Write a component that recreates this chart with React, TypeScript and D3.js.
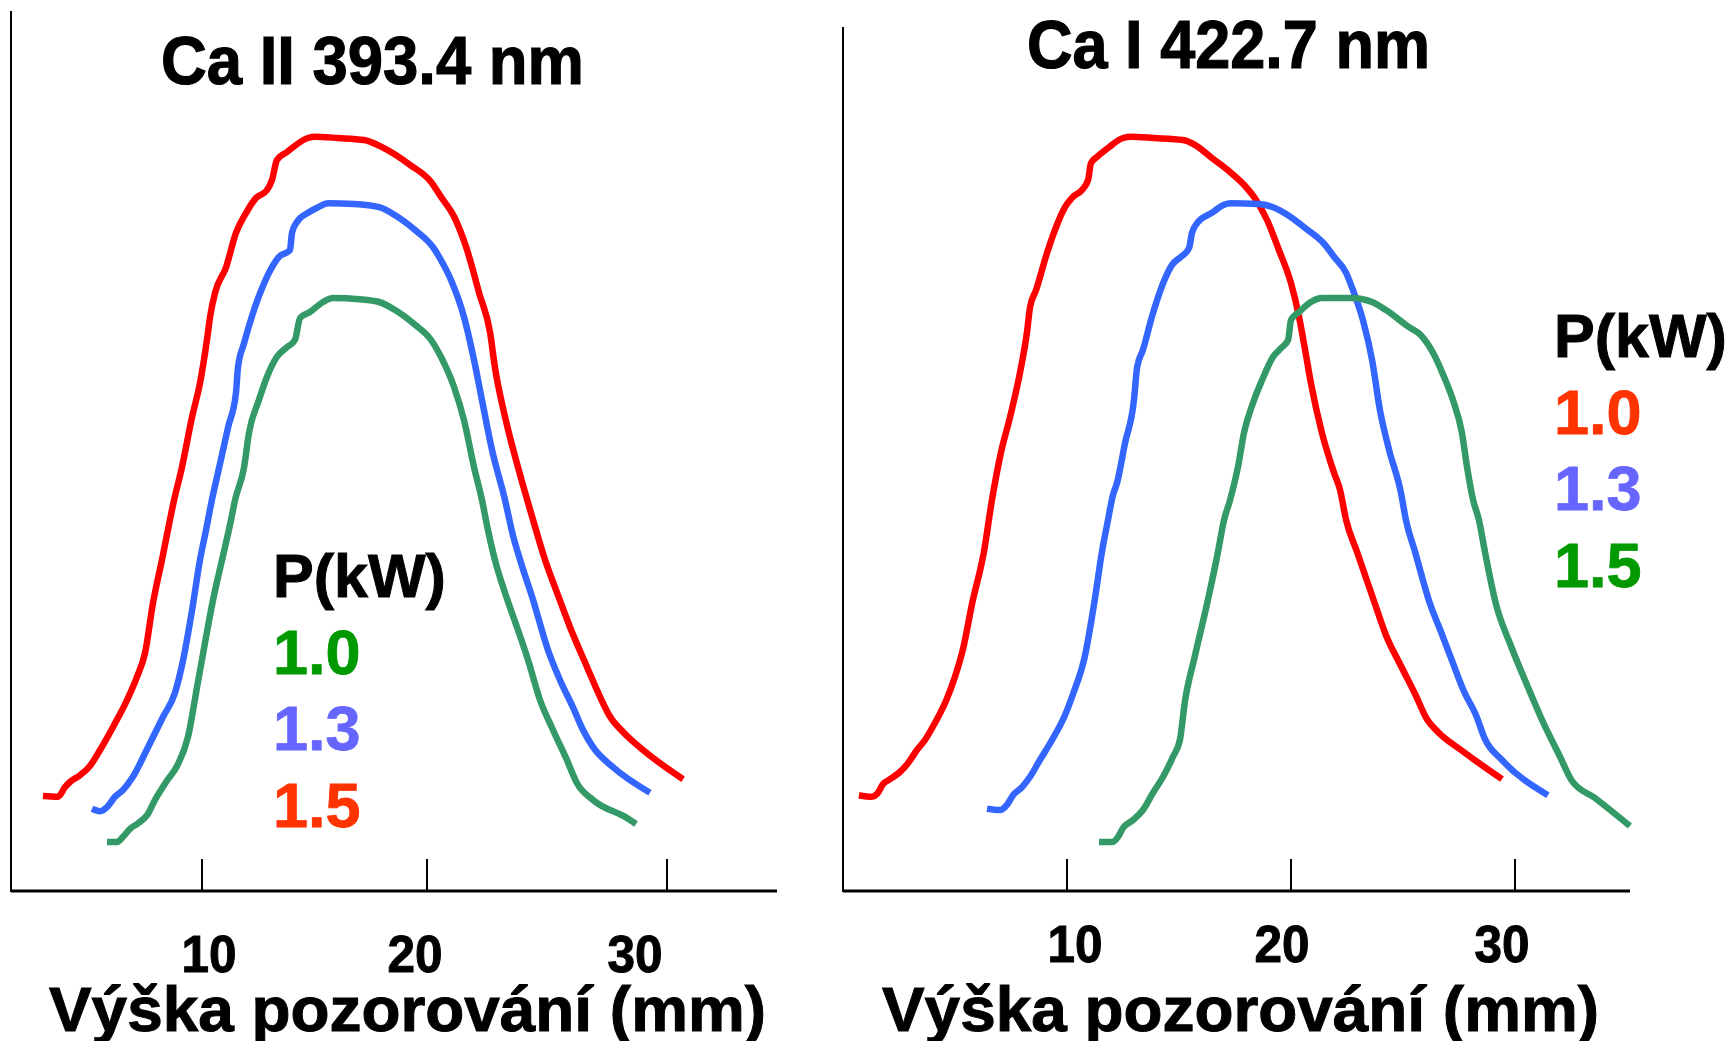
import React from 'react';
import * as d3 from 'd3';

// tick values and texts
const tickValues = [10, 20, 30];
const axisTitle = 'Výška pozorování (mm)';
const legendTitle = 'P(kW)';
const legendLabels = ['1.0', '1.3', '1.5'];
const leftLegendColors = ['#009900', '#6666ff', '#ff3300'];
const rightLegendColors = ['#ff3300', '#6666ff', '#009900'];

// Ca II 393.4 nm  -- [height mm, intensity]
const caIIRed = [[2.93,12.0],[3.6,11.9],[3.91,13.1],[4.13,13.75],[4.58,14.6],[5.02,15.75],[5.47,17.75],[6.04,20.6],[6.67,24],[7.11,26.9],[7.47,29.9],[7.82,36.1],[8.22,41.5],[8.76,49],[9.11,53.1],[9.56,59.4],[9.91,63.6],[10.22,69],[10.36,71.9],[10.58,74.9],[11.07,78.1],[11.51,82.4],[11.96,84.9],[12.4,86.75],[12.89,87.75],[13.11,89],[13.33,91.5],[13.78,92.5],[14.71,94.25],[15.02,94.4],[16.04,94.25],[17.2,94],[18.0,93.1],[19.24,90.9],[20.17,88.75],[20.58,86.9],[21.13,84.4],[21.67,80.25],[22.17,74.9],[22.63,69.9],[22.83,65.6],[23.25,59.4],[23.79,53.1],[24.42,46.5],[24.92,41.5],[25.42,37.4],[25.96,33.1],[26.67,28.1],[27.21,24.4],[27.63,21.9],[28.17,20],[29.0,17.75],[30.67,14.1]];
const caIIBlue = [[5.11,10.4],[5.47,10.1],[5.78,10.6],[6.13,11.9],[6.49,12.75],[6.93,14.4],[7.6,18.1],[8.27,21.9],[8.8,24.9],[9.16,29],[9.56,35.25],[9.91,41.5],[10.18,45.25],[10.44,49],[10.71,52.4],[11.16,58.1],[11.51,62.4],[11.6,65.6],[11.87,68.6],[12.31,72.75],[12.76,76.1],[13.11,78.1],[13.42,79.4],[13.91,80.25],[14.0,82.4],[14.22,83.75],[14.71,84.9],[15.16,85.6],[15.6,86.1],[16.76,86],[17.87,85.6],[18.58,84.6],[19.47,82.75],[20.25,80.6],[20.58,79],[21.0,76.5],[21.54,71.9],[21.96,66.5],[22.29,61.5],[22.71,55.25],[23.25,49],[23.58,44.6],[23.88,41.5],[24.42,36.5],[25.04,30.25],[25.54,26.5],[26.08,23.1],[26.5,20.25],[26.92,18.1],[27.75,15.6],[29.29,12.4]];
const caIIGreen = [[5.78,6.25],[6.22,6.25],[6.49,6.9],[6.8,7.9],[7.16,8.6],[7.56,9.6],[7.91,11.5],[8.44,13.9],[8.89,15.75],[9.38,19.4],[9.78,25.6],[10.13,31.1],[10.49,36.5],[10.89,41.5],[11.29,46.5],[11.47,49],[11.87,53.1],[12.09,57.4],[12.53,61.5],[12.89,64.4],[13.33,66.9],[13.78,68.1],[14.13,69],[14.36,71.75],[14.8,72.5],[15.38,73.75],[15.82,74.25],[16.98,74.1],[17.87,73.75],[18.58,72.75],[19.47,70.9],[20.17,69],[20.58,66.9],[21.13,63.1],[21.54,59],[21.96,53.1],[22.29,49],[22.54,45.25],[22.83,41.5],[23.25,37.4],[23.75,33.1],[24.21,29],[24.71,24],[25.25,20.25],[25.83,16.5],[26.25,13.6],[26.92,11.5],[28.33,9.25],[28.71,8.5]];

// Ca I 422.7 nm
const caIRed = [[0.71,12.1],[1.29,11.9],[1.56,12.4],[1.79,13.5],[2.1,14.1],[2.54,15],[2.9,16.1],[3.3,17.75],[3.66,19],[4.06,20.9],[4.6,23.9],[5.0,26.9],[5.36,30.4],[5.76,36],[6.29,42.5],[6.65,49],[7.05,54.9],[7.46,59.4],[7.95,65.6],[8.21,69.9],[8.35,73.1],[8.62,75.25],[9.11,79.9],[9.51,83.1],[9.91,85.6],[10.27,86.9],[10.67,87.75],[10.94,89],[11.07,91.1],[11.34,91.9],[11.83,93],[12.5,94.25],[12.86,94.4],[13.88,94.25],[15.18,94],[15.71,93.4],[16.47,91.75],[17.28,90],[17.9,88.4],[18.44,86.5],[18.93,84],[19.46,80.25],[20.0,76.1],[20.36,71.9],[20.63,67.75],[20.89,63.6],[21.38,57.4],[21.92,52.4],[22.19,50.25],[22.46,46.5],[22.95,42.5],[23.75,36],[24.24,32.1],[24.91,28.25],[25.54,24.75],[26.07,21.6],[26.56,20],[27.59,17.75],[29.42,14.1]];
const caIBlue = [[6.43,10.4],[7.01,10.25],[7.32,10.9],[7.59,12.1],[7.99,13.1],[8.35,14.4],[8.79,16.5],[9.33,19],[9.91,22.1],[10.27,24.75],[10.8,29.5],[11.21,36],[11.56,42.5],[11.83,46.5],[12.05,49.6],[12.23,51.1],[12.59,56.1],[12.99,61.5],[13.13,65.6],[13.39,67.75],[13.79,71.9],[14.29,76.1],[14.69,78.4],[15.09,79.4],[15.45,80.5],[15.58,82.4],[15.85,83.75],[16.47,84.9],[17.01,85.9],[17.28,86.1],[18.57,86],[19.2,85.6],[19.87,84.6],[20.63,83],[21.52,80.9],[21.92,79.4],[22.46,77.4],[22.81,74.9],[23.21,71.5],[23.62,66.5],[23.97,60.25],[24.38,55.25],[24.91,49.9],[25.13,46.5],[25.54,42.5],[26.21,36],[26.7,32.5],[27.23,28.6],[27.72,25.1],[28.26,22.1],[28.66,19.1],[29.42,16.5],[31.47,12.1]];
const caIGreen = [[11.43,6.25],[12.01,6.25],[12.28,6.9],[12.5,8],[12.95,9],[13.39,10.25],[13.84,12.4],[14.29,14.4],[14.73,16.9],[15.04,19],[15.27,23.9],[15.71,29.5],[16.25,36],[16.74,42.5],[17.01,46.5],[17.28,49],[17.63,53.1],[17.9,57.4],[18.3,61.1],[18.71,64],[19.2,66.9],[19.6,68.1],[19.87,69],[20.0,71.5],[20.36,72.5],[20.89,73.75],[21.38,74.25],[22.68,74.25],[23.62,73.75],[24.24,72.75],[25.27,70.6],[25.8,69.6],[26.34,67.4],[26.83,64.4],[27.23,61.5],[27.63,57.4],[27.86,53.1],[28.13,49],[28.39,46.5],[28.66,42.5],[29.15,36],[29.82,30.75],[30.58,25.6],[31.25,21.25],[32.01,16.9],[32.54,13.9],[33.57,11.75],[35.13,8.25]];

const RED = '#ff0000';
const BLUE = '#3366ff';
const GREEN = '#339966';
const FONT = '"Liberation Sans", Arial, Helvetica, sans-serif';

const y = d3.scaleLinear().domain([0, 100]).range([892, 92]);

const panels = [
  {
    title: 'Ca II 393.4 nm', titleX: 161, titleY: 84, titleLen: 423,
    x: d3.scaleLinear().domain([10, 20, 30]).range([202, 427, 667]),
    labelX: d3.scaleLinear().domain([10, 20, 30]).range([209, 415, 635]),
    labelY: 972,
    left: 11, right: 777, top: 11,
    axisTitleX: 49,
    series: [
      { data: caIIRed, color: RED },
      { data: caIIBlue, color: BLUE },
      { data: caIIGreen, color: GREEN },
    ],
    legend: { x: 273, y: 597, colors: leftLegendColors },
  },
  {
    title: 'Ca I 422.7 nm', titleX: 1027, titleY: 68, titleLen: 403,
    x: d3.scaleLinear().domain([10, 20, 30]).range([1067, 1291, 1515]),
    labelX: d3.scaleLinear().domain([10, 20, 30]).range([1075, 1282, 1502]),
    labelY: 962,
    left: 843, right: 1630, top: 27,
    axisTitleX: 882,
    series: [
      { data: caIRed, color: RED },
      { data: caIBlue, color: BLUE },
      { data: caIGreen, color: GREEN },
    ],
    legend: { x: 1554, y: 357, colors: rightLegendColors },
  },
];

const App = () => {
  const axisY = 891;
  return (
    <svg width={1734} height={1041} style={{ position: 'absolute', left: 0, top: 0, background: '#fff' }}
      fontFamily={FONT} fontWeight="bold">
      {panels.map((p, pi) => {
        const line = d3.line<number[]>()
          .x(d => p.x(d[0]))
          .y(d => y(d[1]))
          .curve(d3.curveMonotoneX);
        return (
          <g key={pi}>
            <line x1={p.left} x2={p.left} y1={p.top} y2={axisY + 1} stroke="#000" strokeWidth={2} />
            <line x1={p.left} x2={p.right} y1={axisY} y2={axisY} stroke="#000" strokeWidth={3} />
            {tickValues.map(t => (
              <g key={t}>
                <line x1={p.x(t)} x2={p.x(t)} y1={859} y2={axisY} stroke="#000" strokeWidth={2} />
                <text x={p.labelX(t)} y={p.labelY} fontSize={52} textAnchor="middle"
                  stroke="#000" strokeWidth={1}
                  textLength={55} lengthAdjust="spacingAndGlyphs">{t}</text>
              </g>
            ))}
            {p.series.map((s, si) => (
              <path key={si} d={line(s.data) || ''} fill="none" stroke={s.color}
                strokeWidth={6.5} strokeLinejoin="round" />
            ))}
            <text x={p.titleX} y={p.titleY} fontSize={68} textLength={p.titleLen}
              stroke="#000" strokeWidth={1.2}
              lengthAdjust="spacingAndGlyphs">{p.title}</text>
            <text x={p.axisTitleX} y={1031} fontSize={63} textLength={717}
              stroke="#000" strokeWidth={1}
              lengthAdjust="spacingAndGlyphs">{axisTitle}</text>
            <text x={p.legend.x} y={p.legend.y} fontSize={61} stroke="#000" strokeWidth={1}>{legendTitle}</text>
            {legendLabels.map((l, li) => (
              <text key={l} x={p.legend.x} y={p.legend.y + 76.5 * (li + 1)} fontSize={63}
                fill={p.legend.colors[li]} stroke={p.legend.colors[li]} strokeWidth={0.8}>{l}</text>
            ))}
          </g>
        );
      })}
    </svg>
  );
};

export default App;
